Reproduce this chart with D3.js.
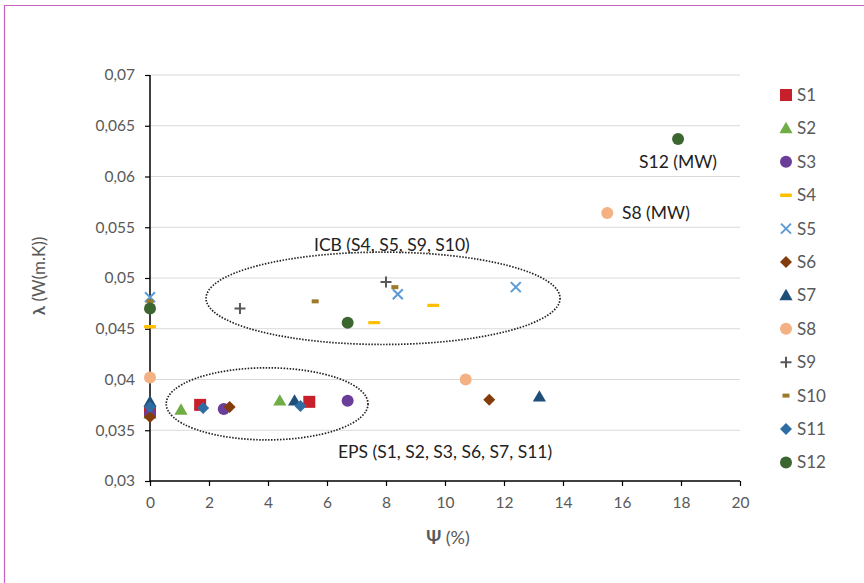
<!DOCTYPE html>
<html><head><meta charset="utf-8">
<script src="https://cdn.jsdelivr.net/npm/d3@7"></script>
<style>body{margin:0;background:#fff;} text{font-family:Lato,"Open Sans",sans-serif;}</style>
</head><body>
<svg id="chart" width="864" height="583"></svg>
<script>
const seriesNames = ["S1","S2","S3","S4","S5","S6","S7","S8","S9","S10","S11","S12"];
const S1 = [[0,0.0368],[1.7,0.0375],[5.4,0.0378]];
const S2 = [[0,0.0366],[1.05,0.0370],[4.4,0.0379]];
const S3 = [[0,0.0366],[2.5,0.0371],[6.7,0.0379]];
const S4 = [[0,0.0452],[7.6,0.0456],[9.6,0.0473]];
const S5 = [[0,0.0481],[8.4,0.0484],[12.4,0.0491]];
const S6 = [[0,0.0363],[2.7,0.0373],[11.5,0.0380]];
const S7 = [[0,0.0378],[4.9,0.0379],[13.2,0.0383]];
const S8 = [[0,0.0402],[10.7,0.0400],[15.5,0.0564]];
const S9 = [[3.05,0.0470],[8.0,0.0496]];
const S10 = [[0,0.0477],[5.6,0.0477],[8.3,0.0491]];
const S11 = [[0,0.0373],[1.8,0.0372],[5.1,0.0374]];
const S12 = [[0,0.0470],[6.7,0.0456],[17.9,0.0637]];
const seriesData = [S1,S2,S3,S4,S5,S6,S7,S8,S9,S10,S11,S12];
const xTicks = [0,2,4,6,8,10,12,14,16,18,20];
const yTicks = [0.03,0.035,0.04,0.045,0.05,0.055,0.06,0.065,0.07];
const yTickLabels = ["0,03","0,035","0,04","0,045","0,05","0,055","0,06","0,065","0,07"];
// annotation ellipses in data units: [cx, cy, rx, ry]
const ellipses = [[7.9,0.0480,6.0,0.00455],[3.97,0.0376,3.42,0.00355]];
const ellipseLabels = ["ICB (S4, S5, S9, S10)","EPS (S1, S2, S3, S6, S7, S11)"];
const ellipseLabelPos = [[8.2,0.05266],[10.0,0.03227]];
const pointLabels = ["S12 (MW)","S8 (MW)"];
const pointLabelPos = [[17.9,0.06084],[16.0,0.05581]];

const colors = ["#C8202A","#70AD47","#6A3D9A","#FFC000","#5B9BD5","#843C0C","#1F4E79","#F4B183","#595959","#9C7A29","#2E6DA4","#3B6630"];
const shapes = ["square","triangle","circle","dash","x","diamond","triangle","circle","plus","smalldash","diamond","circle"];

const svg = d3.select("#chart");
svg.append("path").attr("d","M4.5,583 L4.5,5.5 L864,5.5").attr("fill","none").attr("stroke","#C95FBF").attr("stroke-width",1.2);

const L=150, R=740, T=75, B=481;
const x = d3.scaleLinear().domain([0,20]).range([L,R]);
const y = d3.scaleLinear().domain([0.03,0.07]).range([B,T]);

svg.append("g").selectAll("line").data(yTicks.slice(1)).join("line")
  .attr("x1",L).attr("x2",R).attr("y1",d=>y(d)).attr("y2",d=>y(d))
  .attr("stroke","#D9D9D9").attr("stroke-width",1);

const yAxis = d3.axisLeft(y).tickValues(yTicks).tickFormat((d,i)=>yTickLabels[i]).tickSize(5).tickPadding(10);
const gy = svg.append("g").attr("transform",`translate(${L},0)`).call(yAxis);
const xAxis = d3.axisBottom(x).tickValues(xTicks).tickFormat(d3.format("d")).tickSize(5).tickPadding(11);
const gx = svg.append("g").attr("transform",`translate(0,${B})`).call(xAxis);
[gx,gy].forEach(g=>{
  g.selectAll("path").attr("stroke","#000").attr("stroke-width",1.5);
  g.selectAll("line").attr("stroke","#000").attr("stroke-width",1.2);
  g.selectAll("text").attr("fill","#595959").style("font-size","15.5px").style("font-family","Lato");
});
gx.select(".domain").attr("d",`M${L},0H${R}`);
gy.select(".domain").attr("d",`M0,${B}V${T}`);

function drawMarker(g, shape, color, cx, cy){
  switch(shape){
    case "square": g.append("rect").attr("x",cx-6).attr("y",cy-6).attr("width",12).attr("height",12).attr("fill",color); break;
    case "triangle": g.append("path").attr("d",d3.symbol(d3.symbolTriangle,75)()).attr("transform",`translate(${cx},${cy+1})`).attr("fill",color); break;
    case "circle": g.append("circle").attr("cx",cx).attr("cy",cy).attr("r",6).attr("fill",color); break;
    case "dash": g.append("rect").attr("x",cx-6).attr("y",cy-1.7).attr("width",12).attr("height",3.4).attr("rx",1.2).attr("fill",color); break;
    case "smalldash": g.append("rect").attr("x",cx-3.5).attr("y",cy-2).attr("width",7).attr("height",4).attr("fill",color); break;
    case "x": g.append("path").attr("d",`M${cx-5},${cy-5}L${cx+5},${cy+5}M${cx-5},${cy+5}L${cx+5},${cy-5}`).attr("stroke",color).attr("stroke-width",2).attr("fill","none"); break;
    case "plus": g.append("path").attr("d",`M${cx-5.5},${cy}L${cx+5.5},${cy}M${cx},${cy-5.5}L${cx},${cy+5.5}`).attr("stroke",color).attr("stroke-width",2).attr("fill","none"); break;
    case "diamond": g.append("path").attr("d",`M${cx},${cy-6}L${cx+6},${cy}L${cx},${cy+6}L${cx-6},${cy}Z`).attr("fill",color); break;
  }
}
const pts = svg.append("g");
seriesData.forEach((arr,i)=>{
  arr.forEach(p=>drawMarker(pts, shapes[i], colors[i], x(p[0]), y(p[1])));
});

svg.append("g").selectAll("ellipse").data(ellipses).join("ellipse")
  .attr("cx",d=>x(d[0])).attr("cy",d=>y(d[1]))
  .attr("rx",d=>x(d[2])-x(0)).attr("ry",d=>y(0.03)-y(0.03+d[3]))
  .attr("fill","none").attr("stroke","#222").attr("stroke-width",1.7).attr("stroke-dasharray","1.5,1.5");

svg.append("g").selectAll("text").data(ellipseLabels).join("text")
  .attr("x",(d,i)=>x(ellipseLabelPos[i][0])).attr("y",(d,i)=>y(ellipseLabelPos[i][1]))
  .attr("text-anchor","middle").attr("fill","#222").style("font-size","17.5px").text(d=>d);
svg.append("g").selectAll("text").data(pointLabels).join("text")
  .attr("x",(d,i)=>x(pointLabelPos[i][0])).attr("y",(d,i)=>y(pointLabelPos[i][1]))
  .attr("text-anchor",(d,i)=>i===0?"middle":"start")
  .attr("fill","#222").style("font-size","17.5px").text(d=>d);

const xt = svg.append("text").attr("x",448).attr("y",544).attr("text-anchor","middle").attr("fill","#595959").style("font-size","18px");
xt.append("tspan").attr("font-weight","bold").text("Ψ");
xt.append("tspan").text(" (%)");
const yt = svg.append("text").attr("transform","translate(45,276) rotate(-90)").attr("text-anchor","middle").attr("fill","#595959").style("font-size","17px");
yt.append("tspan").attr("font-weight","bold").text("λ");
yt.append("tspan").text(" (W(m.K))");

const lg = svg.append("g");
seriesNames.forEach((n,i)=>{
  const ly = 95 + i*33.4;
  drawMarker(lg, shapes[i], colors[i], 786, ly);
  lg.append("text").attr("x",797).attr("y",ly+6).attr("fill","#595959").style("font-size","17px").text(n);
});
</script>
</body></html>
